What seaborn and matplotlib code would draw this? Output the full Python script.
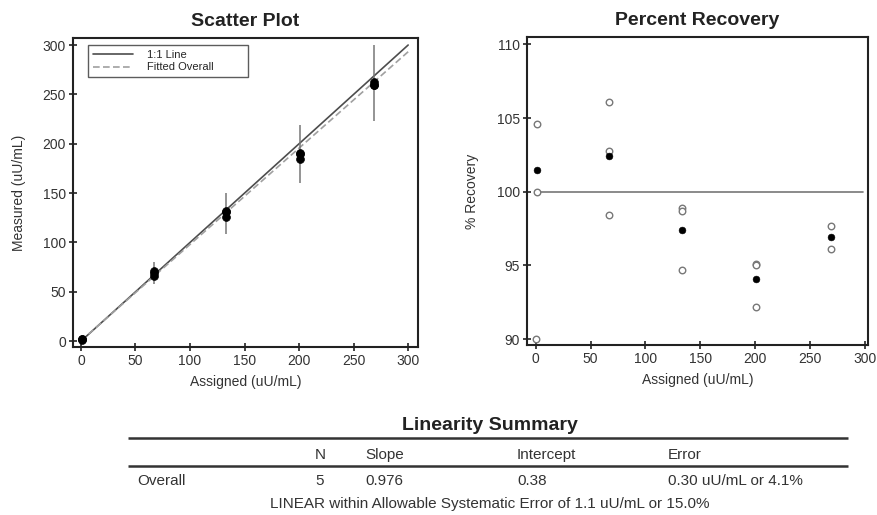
import matplotlib
matplotlib.use("Agg")
import matplotlib.pyplot as plt
import seaborn as sns
import pandas as pd

sns.set_theme(style="ticks")
plt.rcParams["font.family"] = ["Liberation Sans", "DejaVu Sans"]

# assigned levels (uU/mL)
assigned = [1, 67, 133, 201, 269]

# measured replicates per level
measured_reps = [
    [2.0, 1.5, 2.5],
    [71, 69, 66],
    [131.5, 131, 126],
    [191, 190, 185],
    [263, 260, 259],
]
# allowable error range drawn as vertical bars
err_low = [1, 58, 109, 160, 223]
err_high = [3, 80, 150, 219, 300]

# percent recovery, replicates and level means
recovery_reps = [
    [104.6, 100.0],
    [106.1, 102.8, 98.4],
    [98.9, 98.7, 94.7],
    [95.1, 95.0, 92.2],
    [97.7, 96.1],
]
recovery_mean = [101.5, 102.4, 97.4, 94.1, 96.9]
stray_x = [0]
stray_y = [90.0]

# fit summary
slope = 0.976
intercept = 0.38
table_header = ["N", "Slope", "Intercept", "Error"]
table_row = ["Overall", "5", "0.976", "0.38", "0.30 uU/mL or 4.1%"]
footer = "LINEAR within Allowable Systematic Error of 1.1 uU/mL or 15.0%"

scatter_df = pd.DataFrame(
    [(a, m) for a, reps in zip(assigned, measured_reps) for m in reps],
    columns=["assigned", "measured"],
)
rec_df = pd.DataFrame(
    [(a, r) for a, reps in zip(assigned, recovery_reps) for r in reps],
    columns=["assigned", "recovery"],
)
mean_df = pd.DataFrame({"assigned": assigned, "recovery": recovery_mean})
line_x = [0, 300]
lines_df = pd.DataFrame({
    "x": line_x + line_x,
    "y": line_x + [slope * v + intercept for v in line_x],
    "kind": ["1:1 Line"] * 2 + ["Fitted Overall"] * 2,
})

fig = plt.figure(figsize=(8.77, 5.15), dpi=100)
ax1 = fig.add_axes([0.0832, 0.326, 0.3934, 0.600])
ax2 = fig.add_axes([0.601, 0.330, 0.3888, 0.598])

txt = "#333333"
for ax in (ax1, ax2):
    for sp in ax.spines.values():
        sp.set_color("#222222")
        sp.set_linewidth(1.5)
    ax.tick_params(direction="inout", length=6, width=1.2, color="#222222",
                   labelsize=10, labelcolor=txt, pad=2)

# ---- scatter plot
sns.lineplot(data=lines_df, x="x", y="y", hue="kind", style="kind",
             palette={"1:1 Line": "#4d4d4d", "Fitted Overall": "#a0a0a0"},
             dashes={"1:1 Line": "", "Fitted Overall": (4, 2)},
             linewidth=1.2, ax=ax1, zorder=2)
ax1.vlines(assigned, err_low, err_high, color="#777777", linewidth=1.1, zorder=3)
sns.scatterplot(data=scatter_df, x="assigned", y="measured", color="black",
                s=32, edgecolor="black", linewidth=0.5, ax=ax1, zorder=4,
                legend=False)
ax1.set_xlim(-7.3, 309)
ax1.set_ylim(-6, 307)
ax1.set_xticks(range(0, 301, 50))
ax1.set_yticks(range(0, 301, 50))
ax1.set_title("Scatter Plot", fontsize=14, fontweight="bold", color="#222222", pad=9)
ax1.set_xlabel("Assigned (uU/mL)", fontsize=10, color=txt, labelpad=5)
ax1.set_ylabel("Measured (uU/mL)", fontsize=10, color=txt, labelpad=12)
leg = ax1.legend(loc="upper left", bbox_to_anchor=(0.043, 0.877, 0.464, 0.1),
                 mode="expand", borderaxespad=0, fontsize=8, handlelength=3.6,
                 handletextpad=1.3, frameon=True, fancybox=False,
                 borderpad=0.45, labelspacing=0.2)
leg.get_frame().set_edgecolor("#333333")
leg.get_frame().set_linewidth(1.0)

# ---- percent recovery
ax2.plot([0, 298], [100, 100], color="#777777", linewidth=1.2, zorder=2)
sns.scatterplot(data=rec_df, x="assigned", y="recovery", facecolor="white",
                edgecolor="#777777", linewidth=1.0, s=22, ax=ax2, zorder=3)
sns.scatterplot(x=stray_x, y=stray_y, facecolor="white", edgecolor="#777777",
                linewidth=1.0, s=22, ax=ax2, zorder=3, clip_on=False)
sns.scatterplot(data=mean_df, x="assigned", y="recovery", color="black",
                edgecolor="black", s=24, ax=ax2, zorder=4)
ax2.set_xlim(-8, 303)
ax2.set_ylim(89.6, 110.5)
ax2.set_xticks(range(0, 301, 50))
ax2.set_yticks(range(90, 111, 5))
ax2.set_title("Percent Recovery", fontsize=14, fontweight="bold", color="#222222", pad=9)
ax2.set_xlabel("Assigned (uU/mL)", fontsize=10, color=txt, labelpad=5)
ax2.set_ylabel("% Recovery", fontsize=10, color=txt, labelpad=13)

# ---- linearity summary table (pixel layout)
ax3 = fig.add_axes([0, 0, 1, 115 / 515])
ax3.set_xlim(0, 877)
ax3.set_ylim(515, 400)
ax3.axis("off")
ax3.text(490, 426, "Linearity Summary", ha="center", va="center",
         fontsize=14, fontweight="bold", color="#222222")
ax3.hlines([438, 466], 128, 848, color="#333333", linewidth=1.8)
head_x = [320, 365, 517, 668]
head_ha = ["center", "left", "left", "left"]
for x, ha, s in zip(head_x, head_ha, table_header):
    ax3.text(x, 455, s, ha=ha, va="center", fontsize=11, color=txt)
row_x = [137] + head_x
row_ha = ["left"] + head_ha
for x, ha, s in zip(row_x, row_ha, table_row):
    ax3.text(x, 481, s, ha=ha, va="center", fontsize=11, color=txt)
ax3.text(490, 504, footer, ha="center", va="center", fontsize=11, color=txt)

fig.savefig("out.png", dpi=100)
